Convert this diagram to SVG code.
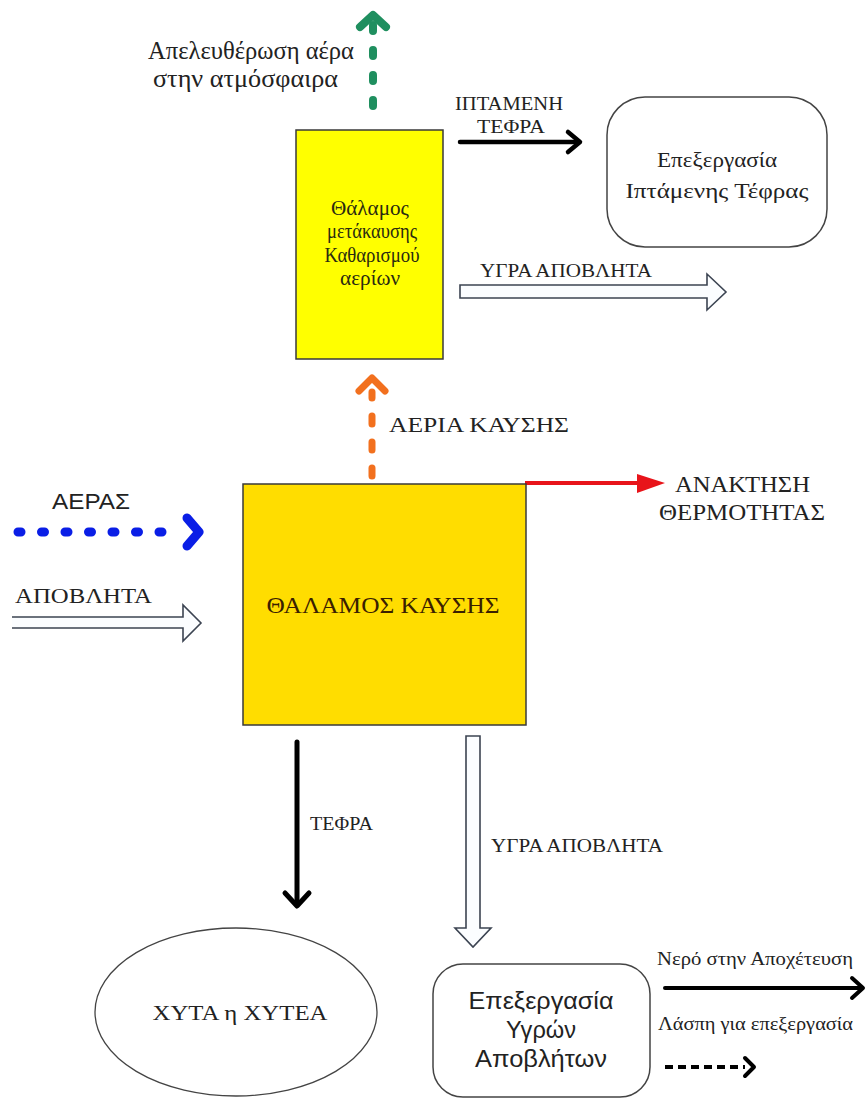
<svg xmlns="http://www.w3.org/2000/svg" width="866" height="1100" viewBox="0 0 866 1100">
<style>
.serif{font-family:"Liberation Serif","Times New Roman",serif;fill:#222}
.sans{font-family:"Liberation Sans",Arial,sans-serif;fill:#222}
.node{stroke:#3a3a3a;stroke-width:1.5}
.hollow{fill:#fbfdff;stroke:#3c4452;stroke-width:1.6;stroke-linejoin:miter}
.blk{fill:none;stroke:#000;stroke-linecap:round;stroke-linejoin:round}
</style>
<rect width="866" height="1100" fill="#fff"/>

<g id="connectors">
  <!-- green release arrow -->
  <g id="c-release" fill="none" stroke="#1f8f5f" stroke-width="8" stroke-linecap="round" stroke-linejoin="round">
    <path d="M373,106 L373,24" stroke-dasharray="6 19"/>
    <path d="M360,27 L373,15 L386,27"/>
  </g>
  <!-- orange combustion gases -->
  <g id="c-gases" fill="none" stroke="#f2701e" stroke-width="7" stroke-linecap="round" stroke-linejoin="round">
    <path d="M372,476 L372,392" stroke-dasharray="8 18"/>
    <path d="M359,391 L372,378 L385,391"/>
  </g>
  <!-- fly ash black arrow -->
  <g id="c-flyash">
    <path class="blk" d="M460,142 L578,142" stroke-width="4.5"/>
    <path class="blk" d="M568,132 L580,142 L568,152" stroke-width="4.5"/>
  </g>
  <!-- hollow liquid waste right -->
  <path id="c-liquid-top" class="hollow" d="M460,285 L707,285 L707,274 L726,292 L707,310 L707,298 L460,298 Z"/>
  <!-- red heat recovery -->
  <g id="c-heat">
    <path d="M525,483 L640,483" stroke="#e8141a" stroke-width="4" fill="none"/>
    <path d="M637,474 L665,483 L637,493 Z" fill="#e8141a"/>
  </g>
  <!-- blue air -->
  <g id="c-air" fill="none" stroke="#0a1ee6" stroke-width="9" stroke-linecap="round" stroke-linejoin="round">
    <path d="M18,532 L165,532" stroke-dasharray="3 20.5"/>
    <path d="M187,518 L199,532 L187,546"/>
  </g>
  <!-- hollow waste input -->
  <path id="c-waste" class="hollow" d="M12,617 L183,617 L183,605 L201,623 L183,641 L183,628 L12,628"/>
  <!-- ash down -->
  <g id="c-ash">
    <path class="blk" d="M297,742 L297,904" stroke-width="5"/>
    <path class="blk" d="M285,893 L297,906 L309,893" stroke-width="5"/>
  </g>
  <!-- hollow liquid waste down -->
  <path id="c-liquid-down" class="hollow" d="M466,736 L480,736 L480,928 L491,928 L473,947 L455,928 L466,928 Z"/>
  <!-- water to sewer -->
  <g id="c-water">
    <path class="blk" d="M665,988 L861,988" stroke-width="4"/>
    <path class="blk" d="M852,978 L863,988 L852,998" stroke-width="4"/>
  </g>
  <!-- sludge dashed -->
  <g id="c-sludge">
    <path d="M665,1067 L745,1067" stroke="#000" stroke-width="4" stroke-dasharray="8 5" fill="none"/>
    <path class="blk" d="M745,1058 L754,1067 L745,1076" stroke-width="4"/>
  </g>
</g>

<g id="labels">
  <text class="serif" x="148" y="59" font-size="25" textLength="206" lengthAdjust="spacingAndGlyphs">Απελευθέρωση αέρα</text>
  <text class="serif" x="153" y="87" font-size="25" textLength="185" lengthAdjust="spacingAndGlyphs">στην ατμόσφαιρα</text>
  <text class="serif" x="455" y="110" font-size="19" textLength="108" lengthAdjust="spacingAndGlyphs">ΙΠΤΑΜΕΝΗ</text>
  <text class="serif" x="477" y="133" font-size="19" textLength="68" lengthAdjust="spacingAndGlyphs">ΤΕΦΡΑ</text>
  <text class="serif" x="480" y="277" font-size="19" textLength="172" lengthAdjust="spacingAndGlyphs">ΥΓΡΑ ΑΠΟΒΛΗΤΑ</text>
  <text class="serif" x="389" y="432" font-size="22" textLength="180" lengthAdjust="spacingAndGlyphs">ΑΕΡΙΑ ΚΑΥΣΗΣ</text>
  <text class="serif" x="675" y="492" font-size="24" textLength="135" lengthAdjust="spacingAndGlyphs">ΑΝΑΚΤΗΣΗ</text>
  <text class="serif" x="659" y="520" font-size="24" textLength="166" lengthAdjust="spacingAndGlyphs">ΘΕΡΜΟΤΗΤΑΣ</text>
  <text class="sans" x="52" y="509" font-size="22" textLength="78" lengthAdjust="spacingAndGlyphs">ΑΕΡΑΣ</text>
  <text class="serif" x="15" y="603" font-size="22" textLength="137" lengthAdjust="spacingAndGlyphs">ΑΠΟΒΛΗΤΑ</text>
  <text class="serif" x="310" y="830" font-size="19" textLength="63" lengthAdjust="spacingAndGlyphs">ΤΕΦΡΑ</text>
  <text class="serif" x="491" y="852" font-size="19" textLength="172" lengthAdjust="spacingAndGlyphs">ΥΓΡΑ ΑΠΟΒΛΗΤΑ</text>
  <text class="serif" x="657" y="965" font-size="19" textLength="196" lengthAdjust="spacingAndGlyphs">Νερό στην Αποχέτευση</text>
  <text class="serif" x="658" y="1030" font-size="19" textLength="195" lengthAdjust="spacingAndGlyphs">Λάσπη για επεξεργασία</text>
</g>

<g id="afterburner">
  <rect class="node" x="296" y="130" width="147" height="229" fill="#ffff00"/>
  <g class="serif" font-size="20" text-anchor="middle" style="fill:#2a2a10">
    <text x="370" y="215" textLength="78" lengthAdjust="spacingAndGlyphs">Θάλαμος</text>
    <text x="372" y="238" textLength="90" lengthAdjust="spacingAndGlyphs">μετάκαυσης</text>
    <text x="372" y="262" textLength="95" lengthAdjust="spacingAndGlyphs">Καθαρισμού</text>
    <text x="370" y="285" textLength="60" lengthAdjust="spacingAndGlyphs">αερίων</text>
  </g>
</g>

<g id="flyash-processing">
  <rect class="node" x="607" y="97" width="220" height="150" rx="38" ry="38" fill="#fff" style="stroke:#444"/>
  <text class="serif" x="717" y="167" font-size="21" text-anchor="middle" textLength="120" lengthAdjust="spacingAndGlyphs">Επεξεργασία</text>
  <text class="serif" x="717" y="198" font-size="21" text-anchor="middle" textLength="183" lengthAdjust="spacingAndGlyphs">Ιπτάμενης Τέφρας</text>
</g>

<g id="combustion-chamber">
  <rect class="node" x="243" y="484" width="283" height="241" fill="#ffdd00"/>
  <text class="serif" x="383" y="613" font-size="24" text-anchor="middle" textLength="233" lengthAdjust="spacingAndGlyphs" style="fill:#3a2000">ΘΑΛΑΜΟΣ ΚΑΥΣΗΣ</text>
</g>

<g id="landfill">
  <ellipse class="node" cx="236" cy="1012" rx="141" ry="84" fill="#fff" style="stroke:#444;stroke-width:1.3"/>
  <text class="serif" x="240" y="1020" font-size="22" text-anchor="middle" textLength="175" lengthAdjust="spacingAndGlyphs">ΧΥΤΑ η ΧΥΤΕΑ</text>
</g>

<g id="liquid-processing">
  <rect class="node" x="433" y="964" width="217" height="133" rx="30" ry="30" fill="#fff" style="stroke:#444"/>
  <g class="sans" font-size="24" text-anchor="middle">
    <text x="541" y="1009" textLength="145" lengthAdjust="spacingAndGlyphs">Επεξεργασία</text>
    <text x="541" y="1038" textLength="70" lengthAdjust="spacingAndGlyphs">Υγρών</text>
    <text x="541" y="1067" textLength="132" lengthAdjust="spacingAndGlyphs">Αποβλήτων</text>
  </g>
</g>
</svg>
